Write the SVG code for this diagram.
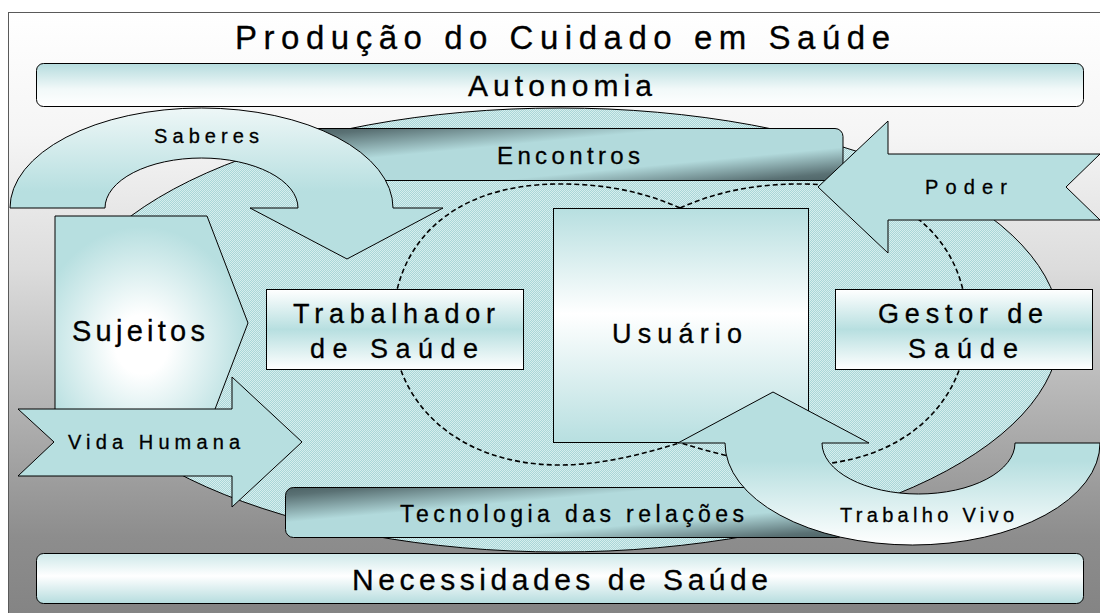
<svg xmlns="http://www.w3.org/2000/svg" width="1100" height="613" viewBox="0 0 1100 613">
<defs>
<style>
.t{font-family:"Liberation Sans",Arial,sans-serif;fill:#000;stroke:#000;stroke-width:0.3}
.ol{stroke:#000;stroke-width:1}
.dash{fill:none;stroke:#000;stroke-width:1.6;stroke-dasharray:5 3}
</style>
<linearGradient id="bg" x1="0" y1="0" x2="0" y2="1">
<stop offset="0" stop-color="#ffffff"/>
<stop offset="0.2" stop-color="#f5f5f5"/>
<stop offset="0.42" stop-color="#dcdcdc"/>
<stop offset="0.7" stop-color="#a9a9a9"/>
<stop offset="0.86" stop-color="#8d8d8d"/>
<stop offset="1" stop-color="#838383"/>
</linearGradient>
<pattern id="tex" width="2" height="2" patternUnits="userSpaceOnUse">
<rect width="2" height="2" fill="#a9d6d8"/>
<rect width="1" height="1" fill="#d7eeee"/>
<rect x="1" y="1" width="1" height="1" fill="#d7eeee"/>
</pattern>
<linearGradient id="gTop" x1="0" y1="0" x2="0" y2="1">
<stop offset="0" stop-color="#b5dcde"/>
<stop offset="0.6" stop-color="#f2f9f9"/>
<stop offset="1" stop-color="#ffffff"/>
</linearGradient>
<linearGradient id="gBot" x1="0" y1="0" x2="0" y2="1">
<stop offset="0" stop-color="#cde8e9"/>
<stop offset="0.45" stop-color="#ffffff"/>
<stop offset="1" stop-color="#b5dcde"/>
</linearGradient>
<linearGradient id="gBox" x1="0" y1="0" x2="0" y2="1">
<stop offset="0" stop-color="#ffffff"/>
<stop offset="0.5" stop-color="#b7dfe0"/>
<stop offset="1" stop-color="#ffffff"/>
</linearGradient>
<linearGradient id="gUsu" x1="0" y1="0" x2="0" y2="1">
<stop offset="0" stop-color="#b7dfe0"/>
<stop offset="0.45" stop-color="#ffffff"/>
<stop offset="1" stop-color="#b7dfe0"/>
</linearGradient>
<linearGradient id="gDiag" x1="0" y1="0" x2="1" y2="1">
<stop offset="0" stop-color="#4c6265"/>
<stop offset="0.08" stop-color="#5a7174"/>
<stop offset="0.35" stop-color="#b2dadc"/>
<stop offset="0.68" stop-color="#b2dadc"/>
<stop offset="0.92" stop-color="#5a7174"/>
<stop offset="1" stop-color="#4c6265"/>
</linearGradient>
<radialGradient id="gSuj" cx="0.45" cy="0.6" r="0.55">
<stop offset="0" stop-color="#ffffff"/>
<stop offset="0.25" stop-color="#ffffff"/>
<stop offset="1" stop-color="#b7dfe0"/>
</radialGradient>
<linearGradient id="gSab" x1="0" y1="0" x2="0" y2="1">
<stop offset="0" stop-color="#eef7f7"/>
<stop offset="0.55" stop-color="#b7dfe0"/>
<stop offset="1" stop-color="#b7dfe0"/>
</linearGradient>
<linearGradient id="gTV" x1="0" y1="0" x2="0" y2="1">
<stop offset="0" stop-color="#b7dfe0"/>
<stop offset="0.45" stop-color="#b7dfe0"/>
<stop offset="1" stop-color="#ffffff"/>
</linearGradient>
</defs>

<g id="background">
<rect x="8.5" y="12.5" width="1100" height="610" fill="url(#bg)" stroke="#5a5a5a" stroke-width="1"/>
<ellipse cx="560" cy="330" rx="500" ry="222" fill="url(#tex)" class="ol"/>
</g>

<g id="encontros">
<rect x="300" y="128.5" width="543" height="52" rx="8" fill="url(#gDiag)" class="ol"/>
<text class="t" x="497" y="164" font-size="24" textLength="143" lengthAdjust="spacing">Encontros</text>
</g>

<g id="tecnologia">
<rect x="285.5" y="487.5" width="560" height="50" rx="8" fill="url(#gDiag)" class="ol"/>
<text class="t" x="400" y="522" font-size="23" textLength="344" lengthAdjust="spacing">Tecnologia das relações</text>
</g>

<g id="connectors">
<path class="dash" d="M 680 208 C 640 190 600 184 560 184 C 445 184 393 250 393 325 C 393 400 455 465 560 465 C 600 465 640 455 679 443"/>
<path class="dash" d="M 680 208 C 720 190 760 184 800 184 C 915 184 967 250 967 325 C 967 400 905 465 800 465 C 760 465 720 455 681 443"/>
</g>

<g id="saberes">
<path d="M 10 208 A 191.5 100 0 0 1 393 208 L 443 208 L 347 259 L 250 208 L 298 208 A 96.5 50 0 0 0 105 208 Z" fill="url(#gSab)" class="ol"/>
<text class="t" x="154" y="143" font-size="20" textLength="105" lengthAdjust="spacing">Saberes</text>
</g>

<g id="sujeitos">
<path d="M 55 216 L 207 216 L 248 323 L 207 430 L 55 430 Z" fill="url(#gSuj)" class="ol"/>
<text class="t" x="72" y="341" font-size="29" textLength="133" lengthAdjust="spacing">Sujeitos</text>
</g>

<g id="vida-humana">
<path d="M 18 409 L 232 409 L 232 377 L 302 442 L 232 507 L 232 476 L 18 476 L 54 442 Z" fill="#b7dfe0" class="ol"/>
<text class="t" x="68" y="449" font-size="20" textLength="172" lengthAdjust="spacing">Vida Humana</text>
</g>

<g id="trabalhador">
<rect x="266.5" y="289.5" width="257" height="80" fill="url(#gBox)" class="ol"/>
<text class="t" x="293" y="323" font-size="27" textLength="202" lengthAdjust="spacing">Trabalhador</text>
<text class="t" x="310" y="358" font-size="27" textLength="168" lengthAdjust="spacing">de Saúde</text>
</g>

<g id="usuario">
<rect x="553.5" y="208.5" width="255" height="234" fill="url(#gUsu)" class="ol"/>
<text class="t" x="612" y="343" font-size="27" textLength="130" lengthAdjust="spacing">Usuário</text>
</g>

<g id="gestor">
<rect x="835.5" y="289.5" width="257" height="80" fill="url(#gBox)" class="ol"/>
<text class="t" x="878" y="323" font-size="27" textLength="165" lengthAdjust="spacing">Gestor de</text>
<text class="t" x="908" y="358" font-size="27" textLength="110" lengthAdjust="spacing">Saúde</text>
</g>

<g id="poder">
<path d="M 818 187 L 888 121 L 888 154 L 1100 154 L 1066 187 L 1100 220 L 888 220 L 888 253 Z" fill="#b7dfe0" class="ol"/>
<text class="t" x="925" y="194" font-size="20" textLength="82" lengthAdjust="spacing">Poder</text>
</g>

<g id="trabalho-vivo">
<path d="M 725 443 A 187.5 102 0 0 0 1100 443 L 1015 443 A 96.5 51 0 0 1 822 443 L 869 443 L 773 392 L 678 443 Z" fill="url(#gTV)" class="ol"/>
<text class="t" x="840" y="522" font-size="20" textLength="174" lengthAdjust="spacing">Trabalho Vivo</text>
</g>

<g id="autonomia">
<rect x="36.5" y="63.5" width="1047" height="43" rx="7" fill="url(#gTop)" class="ol"/>
<text class="t" x="468" y="96" font-size="30" textLength="184" lengthAdjust="spacing">Autonomia</text>
</g>

<g id="necessidades">
<rect x="36.5" y="553.5" width="1047" height="50" rx="7" fill="url(#gBot)" class="ol"/>
<text class="t" x="352" y="590" font-size="30" textLength="416" lengthAdjust="spacing">Necessidades de Saúde</text>
</g>

<g id="title">
<text class="t" x="235" y="49" font-size="33" textLength="655" lengthAdjust="spacing">Produção do Cuidado em Saúde</text>
</g>
</svg>
